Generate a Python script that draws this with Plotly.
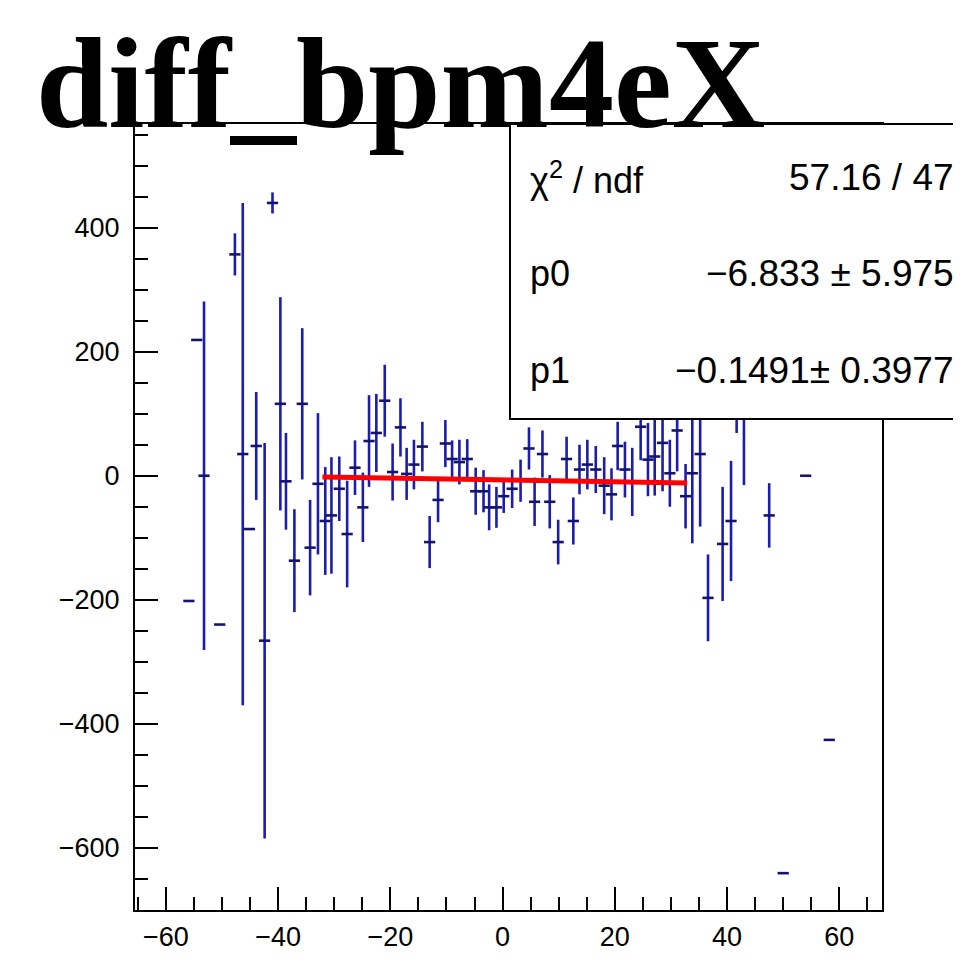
import plotly.graph_objects as go

# Profile points: bin centre, mean, error on the mean
x_vals = [-55.9, -54.5, -53.2, -50.4, -47.7, -46.3, -45.1, -43.9, -42.4, -41.0,
          -39.6, -38.6, -37.1, -35.7, -34.3, -32.9, -31.6, -30.5, -29.1, -27.7,
          -26.3, -24.9, -23.8, -22.5, -21.0, -19.6, -18.2, -17.1, -15.8, -14.3,
          -13.0, -11.5, -10.2, -9.0, -7.7, -6.3, -4.8, -3.4, -2.4, -1.1,
          0.2, 1.7, 3.2, 4.7, 5.7, 7.1, 8.4, 9.9, 11.4, 12.6,
          13.7, 15.1, 16.6, 18.1, 19.4, 20.5, 21.8, 23.1, 24.6, 25.9,
          27.1, 28.5, 29.8, 31.1, 32.6, 33.8, 35.2, 36.6, 39.2, 40.7,
          41.7, 43.0, 47.5, 50.0, 54.0, 58.2]
y_vals = [-202, 219, 0, -240, 357, 35, -86, 48, -266, 440,
          116, -9, -137, 116, -116, -13, -73, -64, -21, -94,
          13, -51, 56, 69, 121, 6, 78, 3, 18, 47,
          -107, -39, 52, 27, 22, 27, -25, -25, -51, -51,
          -33, -21, -8, 44, -42, 35, -42, -107, 27, -73,
          10, 18, 10, -16, -30, 48, 10, -10, 79, 26,
          31, 53, 4, 73, -33, 4, 35, -197, -110, -73,
          130, 106, -64, -641, 0, -426]
y_errs = [0, 0, 281, 0, 34, 405, 0, 87, 319, 17,
          172, 78, 83, 122, 77, 114, 87, 94, 52, 86,
          44, 56, 74, 63, 58, 46, 47, 42, 40, 40,
          42, 36, 38, 30, 36, 32, 38, 34, 37, 33,
          27, 31, 34, 34, 39, 38, 43, 36, 36, 38,
          40, 40, 38, 46, 42, 39, 45, 55, 54, 59,
          63, 78, 54, 66, 52, 113, 117, 70, 92, 97,
          61, 121, 52, 0, 0, 0]

# Fit result (pol1) and its range
p0 = -6.833
p1 = -0.1491
fit_range = [-32.1, 32.9]
stat_rows = [("χ<sup>2</sup> / ndf", "57.16 / 47"),
             ("p0", "−6.833 ± 5.975"),
             ("p1", "−0.1491± 0.3977")]

fig = go.Figure()

fig.add_trace(go.Scatter(
    x=x_vals, y=y_vals, mode="markers",
    marker=dict(size=0.1, color="#10107a"),
    error_y=dict(type="data", array=y_errs, width=0, thickness=2.6, color="#1c1cb0"),
    error_x=dict(type="constant", value=1.0, width=0, thickness=2.6, color="#141470"),
    showlegend=False, hoverinfo="skip"))

fit_y = [p0 + p1 * xx for xx in fit_range]
fig.add_trace(go.Scatter(x=fit_range, y=fit_y, mode="lines",
                         line=dict(color="#ff0000", width=5),
                         showlegend=False, hoverinfo="skip"))

axis_font = dict(family="Liberation Sans", size=27, color="black")
fig.update_xaxes(range=[-65.5, 67.6], tickmode="linear", tick0=0, dtick=20,
                 ticks="inside", ticklen=23, tickwidth=2, tickcolor="black",
                 minor=dict(ticks="inside", dtick=5, ticklen=13, tickwidth=2, tickcolor="black"),
                 showline=True, linecolor="black", linewidth=2, mirror=True,
                 showgrid=False, zeroline=False, tickfont=axis_font, ticklabelstandoff=2)
fig.update_yaxes(range=[-700.4, 567.3], tickmode="linear", tick0=0, dtick=200,
                 ticks="inside", ticklen=23, tickwidth=2, tickcolor="black",
                 minor=dict(ticks="inside", dtick=50, ticklen=13, tickwidth=2, tickcolor="black"),
                 showline=True, linecolor="black", linewidth=2, mirror=True,
                 showgrid=False, zeroline=False, tickfont=axis_font, ticklabelstandoff=8)

# Stat box (opaque, sticks out past the right edge)
fig.add_shape(type="rect", xref="paper", yref="paper", x0=0.502, x1=1.2, y0=0.6247, y1=1.0,
              fillcolor="white", line=dict(color="black", width=2), layer="above")

row_y = [0.9313, 0.8104, 0.687]
for (name, val), yy in zip(stat_rows, row_y):
    fig.add_annotation(x=0.526, y=yy, xref="paper", yref="paper", text=name, showarrow=False,
                       xanchor="left", yanchor="middle",
                       font=dict(family="Liberation Sans", size=36, color="black"))
    fig.add_annotation(x=1.099, y=yy, xref="paper", yref="paper", text=val, showarrow=False,
                       xanchor="right", yanchor="middle",
                       font=dict(family="Liberation Sans", size=37, color="black"))

# Big title
fig.add_annotation(x=-0.1347, y=0.958, xref="paper", yref="paper", text="<b>diff_bpm4eX</b>",
                   showarrow=False, xanchor="left", yanchor="bottom",
                   font=dict(family="Liberation Serif", size=130, color="black"))

# page body adds an 8 px offset, so margins are shifted by that much
fig.update_layout(width=961, height=966, autosize=False,
                  margin=dict(l=127, r=87, t=116, b=64),
                  plot_bgcolor="white", paper_bgcolor="white")

fig.write_html("out.html")
